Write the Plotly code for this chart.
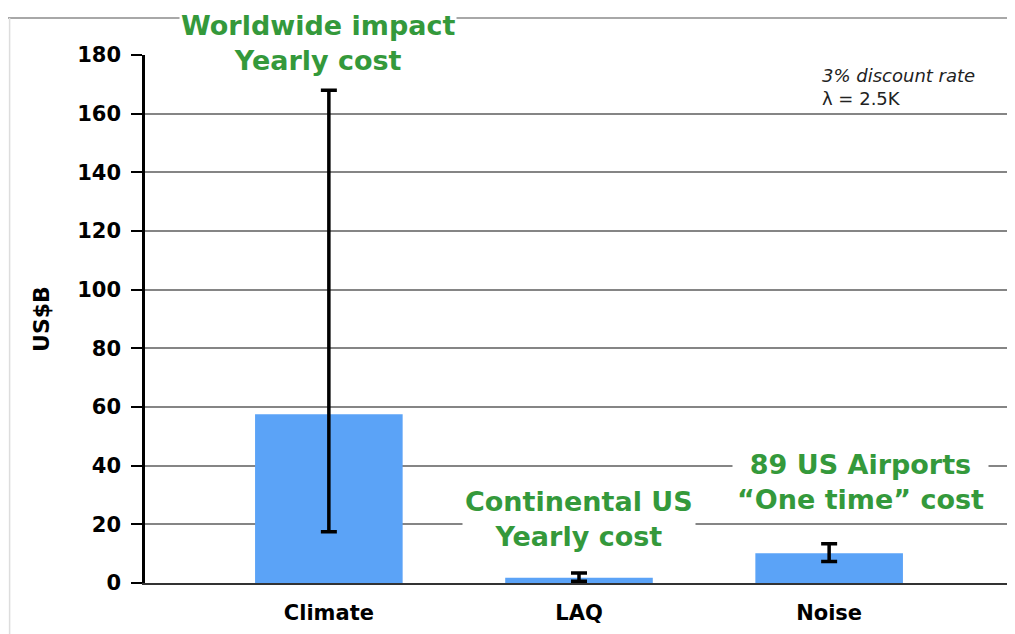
import plotly.graph_objects as go

categories = ["Climate", "LAQ", "Noise"]
values = [57.5, 1.8, 10.1]
err_upper = [168, 3.4, 13.4]
err_lower = [17.5, 0.6, 7.3]
y_ticks = [0, 20, 40, 60, 80, 100, 120, 140, 160, 180]

plus = [u - v for u, v in zip(err_upper, values)]
minus = [v - l for v, l in zip(values, err_lower)]

FONT = "DejaVu Sans"
GREEN = "#34993b"

fig = go.Figure()
fig.add_trace(go.Bar(
    x=categories, y=values, width=0.59,
    marker=dict(color="#5ba3f7", line=dict(width=0)),
    error_y=dict(type="data", symmetric=False, array=plus, arrayminus=minus,
                 color="black", thickness=3.5, width=8),
    hoverinfo="skip",
))

fig.update_layout(
    width=1007, height=626,
    margin=dict(l=137, r=2, t=47, b=51),
    paper_bgcolor="white", plot_bgcolor="white",
    showlegend=False,
    font=dict(family=FONT, color="black"),
    xaxis=dict(
        range=[-0.735, 2.735], showgrid=False, zeroline=False,
        showline=True, linecolor="#333", linewidth=2,
        ticks="", tickfont=dict(family=FONT, size=21, color="black", weight="bold"),
        ticklabelstandoff=10,
    ),
    yaxis=dict(
        range=[0, 180], tickvals=y_ticks, showgrid=True, gridcolor="#858585", gridwidth=2,
        zeroline=False, showline=True, linecolor="black", linewidth=2.5,
        ticks="outside", ticklen=11, tickwidth=2, tickcolor="black",
        tickfont=dict(family=FONT, size=21, color="black", weight="bold"),
        ticklabelstandoff=6,
        title=dict(text="US$B", font=dict(family=FONT, size=22, color="black", weight="bold"),
                   standoff=22),
    ),
)

# frame lines
fig.add_shape(type="line", xref="paper", yref="paper", x0=-0.158, x1=1.01, y0=1.07, y1=1.07,
              line=dict(color="#a8a8a8", width=2))
fig.add_shape(type="line", xref="paper", yref="paper", x0=-0.156, x1=-0.156, y0=1.07, y1=-0.12,
              line=dict(color="#dddddd", width=1.5))
fig.add_shape(type="line", xref="paper", yref="paper", x0=1.0, x1=1.0, y0=1.0, y1=0.0,
              line=dict(color="#858585", width=2))

green_font = dict(family=FONT, size=27, color=GREEN, weight="bold")

fig.add_annotation(x=0, xref="x", xshift=-11, y=1.02, yref="paper", yanchor="middle", yshift=1,
                   text="Worldwide impact<br>Yearly cost", showarrow=False,
                   font=green_font, bgcolor="white", borderpad=1, align="center")
fig.add_annotation(x=1, xref="x", y=20, yref="y", yanchor="middle", yshift=5,
                   text="Continental US<br>Yearly cost", showarrow=False,
                   font=green_font, bgcolor="white", borderpad=2, align="center")
fig.add_annotation(x=2, xref="x", xshift=31, y=40, yref="y", yanchor="middle", yshift=-16,
                   text="89 US Airports<br>\u201cOne time\u201d cost", showarrow=False,
                   font=green_font, bgcolor="white", borderpad=4, align="center")

fig.add_annotation(x=0.778, xref="paper", xanchor="left", y=0.985, yref="paper", yanchor="top",
                   text="<i>3% discount rate</i><br>\u03bb = 2.5K", showarrow=False,
                   font=dict(family=FONT, size=18, color="#222"), align="left")

fig.write_html("out.html")
